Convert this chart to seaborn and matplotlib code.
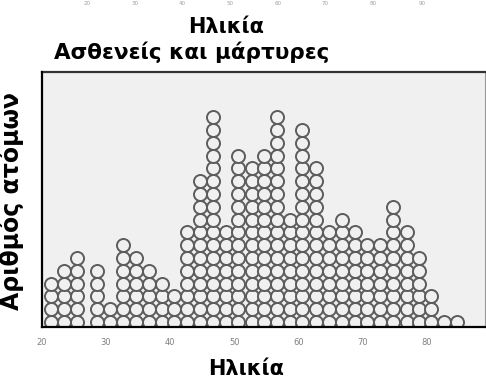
import numpy as np
import pandas as pd
import seaborn as sns
import matplotlib
matplotlib.use("Agg")
import matplotlib.pyplot as plt

# stack positions (age) and number of dots in each stack
ages = [21.5, 23.5, 25.5, 28.6, 30.6, 32.6, 34.7, 36.7, 38.7, 40.6, 42.6,
        44.6, 46.6, 48.7, 50.6, 52.7, 54.6, 56.6, 58.7, 60.6, 62.7, 64.7,
        66.7, 68.7, 70.6, 72.6, 74.7, 76.8, 78.7, 80.6, 82.6, 84.6]
counts = [4, 5, 6, 5, 2, 7, 6, 5, 4, 3, 8, 12, 17, 8, 14, 13, 14, 17, 9, 16,
          13, 8, 9, 8, 7, 7, 10, 8, 6, 3, 1, 1]
x_ticks = [20, 30, 40, 50, 60, 70, 80]
top_labels = ["20", "30", "40", "50", "60", "70", "80", "90"]

title = "Ασθενείς και μάρτυρες"
xlabel = "Ηλικία"
ylabel = "Αριθμός ατόμων"

df = pd.DataFrame({
    "age": np.repeat(ages, counts),
    "level": np.concatenate([np.arange(c) for c in counts]),
})

sns.set_style("white")
plt.rcParams['font.family'] = ['DejaVu Sans']

fig = plt.figure(figsize=(4.86, 3.82), dpi=100)
ax = fig.add_axes([0.0858, 0.144, 0.912, 0.6675])
ax.set_facecolor("#f0f0f0")

sns.scatterplot(data=df, x="age", y="level", ax=ax, marker="o", s=88,
                color="#f0f0f0", edgecolor="#5c5c5c", linewidth=1.4,
                legend=False, zorder=2)

ax.set_xlim(20, 89)
ax.set_ylim(-0.39, 19.53)
ax.set_xticks(x_ticks)
ax.set_yticks([])
ax.set_xlabel("")
ax.set_ylabel("")
ax.tick_params(axis="x", direction="out", length=3, width=0.8, color="#888888",
               labelsize=6, labelcolor="#808080", pad=5)

for side in ["left", "bottom"]:
    ax.spines[side].set_color("black")
    ax.spines[side].set_linewidth(1.6)
    ax.spines[side].set_zorder(3)
ax.spines["top"].set_color("#333333")
ax.spines["top"].set_linewidth(1.6)
ax.spines["right"].set_color("#999999")
ax.spines["right"].set_linewidth(0.8)

# tick labels left over from the chart above
for lab, xp in zip(top_labels, [87, 135, 182, 230, 278, 325, 373, 422]):
    fig.text(xp / 486, 0.997, lab, fontsize=4, color="#a0a0a0",
             ha="center", va="top")

fig.text(0.465, 0.929, xlabel, fontsize=15, fontweight="bold",
         color="black", ha="center", va="center")
fig.text(0.395, 0.864, title, fontsize=15.5, fontweight="bold",
         color="black", ha="center", va="center")
fig.text(0.506, 0.034, xlabel, fontsize=15, fontweight="bold",
         color="black", ha="center", va="center")
fig.text(0.024, 0.474, ylabel, fontsize=17, fontweight="bold",
         color="black", ha="center", va="center", rotation=90)

fig.savefig("out.png", dpi=100)
